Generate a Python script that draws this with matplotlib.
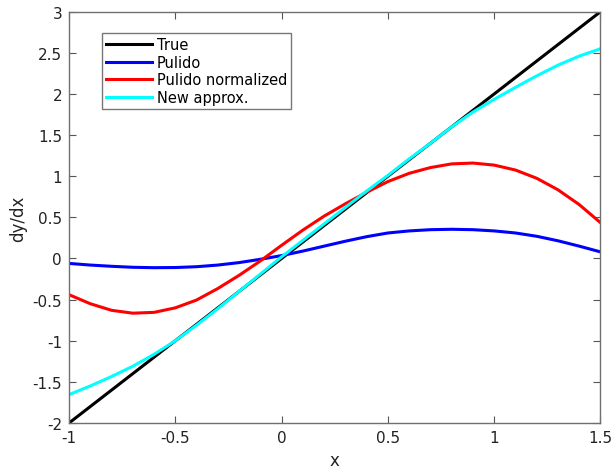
import matplotlib
matplotlib.use("Agg")
import matplotlib.pyplot as plt

# Sample points along x
x = [-1.0, -0.9, -0.8, -0.7, -0.6, -0.5, -0.4, -0.3, -0.2, -0.1, 0.0,
     0.1, 0.2, 0.3, 0.4, 0.5, 0.6, 0.7, 0.8, 0.9, 1.0, 1.1, 1.2, 1.3, 1.4, 1.5]

# Exact derivative
true_dydx = [-2.0, -1.8, -1.6, -1.4, -1.2, -1.0, -0.8, -0.6, -0.4, -0.2, 0.0,
             0.2, 0.4, 0.6, 0.8, 1.0, 1.2, 1.4, 1.6, 1.8, 2.0, 2.2, 2.4, 2.6, 2.8, 3.0]

pulido = [-0.06, -0.08, -0.095, -0.107, -0.112, -0.11, -0.10, -0.08, -0.05, -0.01, 0.035,
          0.09, 0.15, 0.21, 0.265, 0.31, 0.335, 0.35, 0.355, 0.35, 0.335, 0.31, 0.27, 0.215, 0.15, 0.08]

pulido_norm = [-0.44, -0.55, -0.63, -0.665, -0.655, -0.60, -0.505, -0.365, -0.205, -0.03, 0.16,
               0.345, 0.515, 0.665, 0.805, 0.935, 1.035, 1.105, 1.15, 1.16, 1.135, 1.075, 0.975, 0.835, 0.655, 0.435]

new_approx = [-1.655, -1.55, -1.435, -1.31, -1.165, -1.0, -0.81, -0.61, -0.40, -0.19, 0.02,
              0.22, 0.42, 0.62, 0.82, 1.01, 1.21, 1.40, 1.60, 1.78, 1.935, 2.08, 2.22, 2.35, 2.46, 2.55]

x_ticks = [-1, -0.5, 0, 0.5, 1, 1.5]
x_tick_labels = ["-1", "-0.5", "0", "0.5", "1", "1.5"]
y_ticks = [-2, -1.5, -1, -0.5, 0, 0.5, 1, 1.5, 2, 2.5, 3]
y_tick_labels = ["-2", "-1.5", "-1", "-0.5", "0", "0.5", "1", "1.5", "2", "2.5", "3"]

fig = plt.figure(figsize=(6.13, 4.77), dpi=100)
ax = fig.add_axes([0.1126, 0.1111, 0.867, 0.8623])

lw = 2.2
ax.plot(x, true_dydx, color="black", lw=lw, label="True")
ax.plot(x, pulido, color="#0000ff", lw=lw, label="Pulido")
ax.plot(x, pulido_norm, color="#ff0000", lw=lw, label="Pulido normalized")
ax.plot(x, new_approx, color="#00ffff", lw=lw, label="New approx.")

ax.set_xlim(-1, 1.5)
ax.set_ylim(-2, 3)
ax.set_xticks(x_ticks)
ax.set_xticklabels(x_tick_labels)
ax.set_yticks(y_ticks)
ax.set_yticklabels(y_tick_labels)

ax.tick_params(direction="in", length=5, width=0.8, colors="#555555",
               labelcolor="#222222", labelsize=11, top=True, right=True, pad=5)
for s in ax.spines.values():
    s.set_color("#707070")
    s.set_linewidth(1.0)

ax.set_xlabel("x", fontsize=12, color="#222222", labelpad=4)
ax.set_ylabel("dy/dx", fontsize=12, color="#222222", labelpad=4)

leg = ax.legend(loc="upper left", bbox_to_anchor=(0.062, 0.949), fontsize=10.5,
                frameon=True, fancybox=False, handlelength=3.1,
                handletextpad=0.35, borderpad=0.3, labelspacing=0.18,
                borderaxespad=0)
leg.get_frame().set_edgecolor("#555555")
leg.get_frame().set_linewidth(1.0)

fig.savefig("out.png", dpi=100)
